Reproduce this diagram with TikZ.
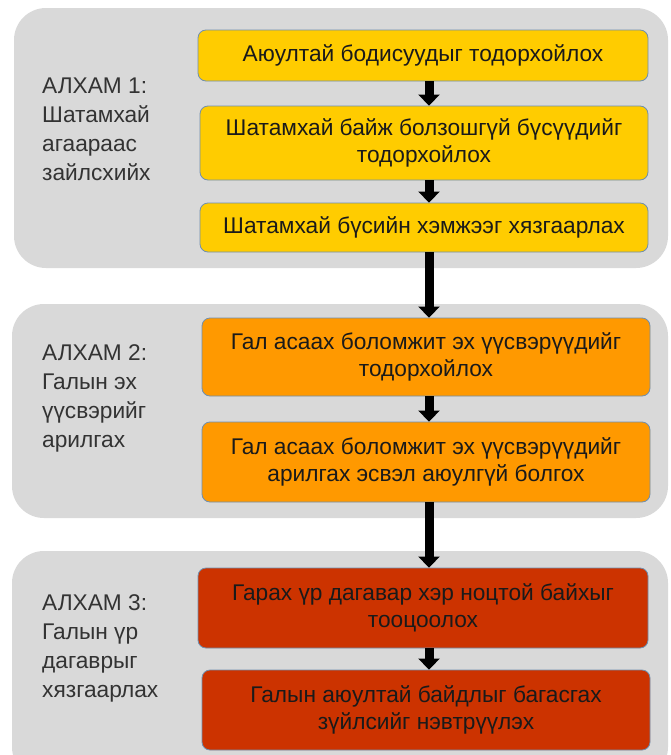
\documentclass[tikz,border=0pt]{standalone}
\usepackage{fontspec}
\setmainfont{Liberation Sans}
\usetikzlibrary{arrows.meta}
\definecolor{panelgray}{HTML}{D9D9D9}
\definecolor{yel}{HTML}{FFCC00}
\definecolor{ora}{HTML}{FF9900}
\definecolor{redo}{HTML}{CC3300}
\definecolor{bordc}{HTML}{6F8FAF}
\definecolor{txt}{HTML}{1A1A1A}
\definecolor{lbltxt}{HTML}{333333}
\begin{document}
\begin{tikzpicture}[x=1pt,y=-1pt,
  panel/.style={fill=panelgray,draw=none,rounded corners=32pt,inner sep=0pt},
  stepbox/.style={draw=bordc,line width=0.8pt,rounded corners=8pt,align=center,inner sep=0pt,
    text=txt,font=\fontsize{22.7}{27}\selectfont},
  lbl/.style={align=left,anchor=west,text=lbltxt,font=\fontsize{22.7}{29}\selectfont,inner sep=0pt},
  arr/.style={line width=9pt,-{Triangle[width=21pt,length=11pt]}}]
\clip (0,0) rectangle (670,755);
\node[panel,minimum width=654pt,minimum height=260pt] (p1) at (341,138) {};
\node[panel,minimum width=656pt,minimum height=214pt] (p2) at (340,411) {};
\node[panel,minimum width=656pt,minimum height=228pt] (p3) at (340,665) {};
\node[lbl] (l1) at (42,129) {АЛХАМ 1:\\Шатамхай\\агаараас\\зайлсхийх};
\node[lbl] (l2) at (42,398) {АЛХАМ 2:\\Галын эх\\үүсвэрийг\\арилгах};
\node[lbl] (l3) at (42,648) {АЛХАМ 3:\\Галын үр\\дагаврыг\\хязгаарлах};
\node[stepbox,fill=yel,minimum width=450pt,minimum height=51pt] (b1) at (423,55.5) {Аюултай бодисуудыг тодорхойлох};
\node[stepbox,fill=yel,minimum width=448pt,minimum height=74pt] (b2) at (424,143) {Шатамхай байж болзошгүй бүсүүдийг\\тодорхойлох};
\node[stepbox,fill=yel,minimum width=448pt,minimum height=49pt] (b3) at (424,227.5) {Шатамхай бүсийн хэмжээг хязгаарлах};
\node[stepbox,fill=ora,minimum width=448pt,minimum height=78pt] (b4) at (426,357) {Гал асаах боломжит эх үүсвэрүүдийг\\тодорхойлох};
\node[stepbox,fill=ora,minimum width=448pt,minimum height=80pt] (b5) at (426,462) {Гал асаах боломжит эх үүсвэрүүдийг\\арилгах эсвэл аюулгүй болгох};
\node[stepbox,fill=redo,minimum width=450pt,minimum height=80pt] (b6) at (423,608) {Гарах үр дагавар хэр ноцтой байхыг\\тооцоолох};
\node[stepbox,fill=redo,minimum width=448pt,minimum height=80pt] (b7) at (426,710) {Галын аюултай байдлыг багасгах\\зүйлсийг нэвтрүүлэх};
\coordinate (ax) at (429,0);
\draw[arr] (b1.south -| ax) -- (b2.north -| ax);
\draw[arr] (b2.south -| ax) -- (b3.north -| ax);
\draw[arr] (b3.south -| ax) -- (b4.north -| ax);
\draw[arr] (b4.south -| ax) -- (b5.north -| ax);
\draw[arr] (b5.south -| ax) -- (b6.north -| ax);
\draw[arr] (b6.south -| ax) -- (b7.north -| ax);
\end{tikzpicture}
\end{document}
